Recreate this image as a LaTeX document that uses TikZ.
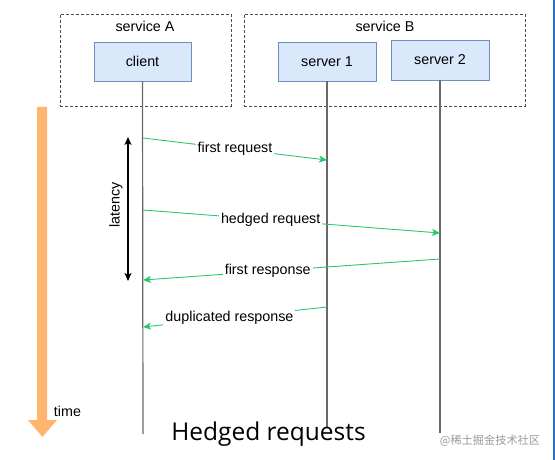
\documentclass[tikz,border=0pt]{standalone}
\usepackage{fontspec}
\setmainfont{Liberation Sans}
\newfontfamily\captionfont{Open Sans}
\newfontfamily\cjk{Noto Sans CJK SC}
\usetikzlibrary{arrows.meta}
\definecolor{boxfill}{RGB}{218,232,252}
\definecolor{boxline}{RGB}{108,142,191}
\definecolor{msggreen}{RGB}{40,200,110}
\definecolor{timeorange}{RGB}{255,181,112}
\definecolor{lifegray}{RGB}{105,105,105}
\definecolor{edgeblue}{RGB}{40,110,210}

\begin{document}
\begin{tikzpicture}[x=1pt,y=-1pt,>={Stealth[length=8pt,width=7pt,inset=2pt]},font=\fontsize{14.3}{17}\selectfont]
 \tikzstyle{group}=[draw=black!70,densely dashed,line width=0.8pt,inner sep=0pt]
 \tikzstyle{actor}=[draw=boxline,fill=boxfill,line width=0.8pt,minimum height=39pt]
 \tikzstyle{lifeline}=[draw=lifegray,line width=1.2pt]
 \tikzstyle{msg}=[->,msggreen,line width=0.9pt]
 \tikzstyle{msglabel}=[fill=white,text=black,inner sep=2pt]

   \useasboundingbox (0,0) rectangle (555,460);

   % services
   \node[group,minimum width=171pt,minimum height=92pt] (svcA) at (145.5,60) {};
   \node[group,minimum width=281pt,minimum height=92pt] (svcB) at (384.5,60) {};
   \node (svcAtext) at (145,26) {service A};
   \node (svcBtext) at (385,26) {service B};

   \node[actor,minimum width=97pt] (client) at (142.5,61.5) {client};
   \node[actor,minimum width=98pt] (server1) at (327,61.5) {server 1};
   \node[actor,minimum width=98pt,minimum height=40pt] (server2) at (440,60) {server 2};

   % lifelines
   \coordinate (clientend) at (143,434);
   \coordinate (server1end) at (327,428);
   \coordinate (server2end) at (440,433);
   \draw[lifeline] (client.south) -- (clientend);
   \draw[lifeline] (server1.south) -- (server1end);
   \draw[lifeline] (server2.south) -- (server2end);

   % messages
   \coordinate (c1) at (143,138);
   \coordinate (s1in) at (327,160);
   \coordinate (c2) at (143,210);
   \coordinate (s2in) at (440,233);
   \coordinate (s2out) at (440,259);
   \coordinate (c3) at (143,280);
   \coordinate (s1out) at (327,307);
   \coordinate (c4) at (143,327);

   \path[msg]
   (c1) edge node[msglabel,pos=0.5] {first request} (s1in)
   (c2) edge node[msglabel,pos=0.43] {hedged request} (s2in)
   (s2out) edge node[msglabel,pos=0.58] {first response} (c3)
   (s1out) edge node[msglabel,pos=0.53] {duplicated response} (c4);

   % latency
   \coordinate (lattop) at (128,137);
   \coordinate (latbot) at (128,281);
   \draw[<->,line width=1.1pt] (lattop) -- (latbot);
   \node[rotate=90] (latency) at (116,205) {latency};

   % time
   \fill[timeorange] (37,107) -- (47,107) -- (47,420) -- (57,420) -- (42.5,437)
     -- (28,420) -- (37,420) -- cycle;
   \node (time) at (67.5,411) {time};

   \node[font=\captionfont\fontsize{24.5}{29}\selectfont] (title) at (268.5,434) {Hedged requests};
   \node[text=black!40,font=\cjk\fontsize{11.2}{13}\selectfont] (mark) at (490,441) {@稀土掘金技术社区};

   \draw[edgeblue,line width=2pt] (553.5,0) -- (553.5,460);
\end{tikzpicture}
\end{document}
